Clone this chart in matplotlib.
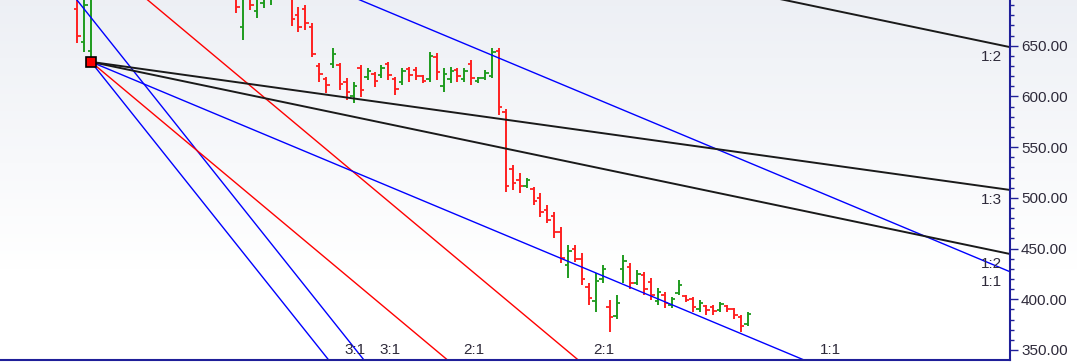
import numpy as np
import matplotlib.pyplot as plt
from matplotlib.ticker import MultipleLocator, FormatStrFormatter

# OHLC bars (bar index = position in the lists)
opens = [686, 654, 645, 712, 730, 742, 755, 748, 758, 772, 765, 752, 762, 756, 742, 750, 738, 728, 738, 720,
         725, 712, 722, 700, 668, 705, 684, 692, 696, 708, 705, 700, 680, 686, 668, 630, 617, 632, 631, 614,
         600, 628, 619, 622, 621, 632, 617, 614, 627, 626, 620, 617, 639, 610, 617, 626, 617, 632, 615, 618,
         620, 645, 585, 528, 518, 512, 509, 500, 488, 482, 466, 434, 450, 440, 412, 398, 420, 392, 383, 430,
         432, 416, 424, 417, 398, 404, 394, 406, 403, 400, 390, 393, 392, 389, 393, 390, 382, 376]
highs = [720, 712, 725, 735, 748, 760, 770, 762, 778, 785, 775, 768, 772, 765, 755, 760, 748, 742, 745, 732,
         735, 728, 730, 710, 712, 712, 708, 712, 715, 722, 718, 706, 688, 690, 672, 633, 619, 648, 633, 618,
         614, 631, 628, 624, 631, 634, 619, 628, 629, 629, 621, 644, 643, 628, 629, 628, 628, 636, 619, 626,
         648, 648, 588, 532, 524, 520, 511, 505, 493, 486, 471, 453, 453, 446, 416, 426, 434, 399, 404, 444,
         436, 429, 427, 421, 411, 407, 402, 419, 404, 402, 399, 394, 394, 397, 394, 391, 384, 387]
lows = [653, 644, 634, 705, 722, 735, 745, 738, 750, 760, 748, 742, 750, 738, 730, 735, 722, 718, 716, 708,
        705, 702, 700, 682, 656, 685, 677, 687, 690, 700, 697, 669, 663, 665, 639, 614, 603, 628, 606, 596,
        593, 599, 616, 609, 618, 616, 601, 611, 614, 616, 613, 614, 616, 604, 613, 614, 614, 611, 613, 616,
        618, 582, 506, 508, 505, 510, 493, 481, 475, 460, 436, 421, 437, 414, 394, 387, 416, 368, 381, 416,
        410, 414, 404, 399, 394, 391, 391, 404, 397, 387, 387, 384, 384, 387, 387, 381, 368, 374]
closes = [660, 690, 715, 730, 742, 755, 748, 758, 772, 765, 752, 762, 756, 742, 750, 738, 728, 738, 720, 725,
          712, 722, 708, 688, 698, 690, 700, 702, 708, 705, 700, 676, 668, 672, 642, 622, 611, 642, 612, 604,
          610, 606, 625, 615, 628, 621, 607, 625, 621, 620, 615, 640, 624, 622, 625, 620, 625, 618, 618, 623,
          644, 590, 512, 515, 512, 518, 497, 486, 478, 466, 441, 448, 440, 420, 401, 418, 430, 382, 396, 438,
          416, 425, 410, 404, 407, 396, 400, 414, 399, 392, 396, 389, 388, 395, 390, 384, 374, 385]

# Gann fans: origin (bar, price), 1x1 step in price per bar
fan_origins = [(-20.5, 870.0), (2, 634.0)]
gann_unit = 2.85
fan_labels = ['3:1', '2:1', '1:1', '1:2', '1:3']
fan_factors = [3, 2, 1, 1 / 2, 1 / 3]
fan_colors = ['#0000ff', '#ff0000', '#0000ff', '#1a1a1a', '#1a1a1a']
fan_widths = [1.0, 1.0, 1.0, 1.4, 1.4]

price_ticks = [350, 400, 450, 500, 550, 600, 650]
xmin, xmax = -11.16, 134.9
ymin, ymax = 340.1, 695.0

navy = '#1f1f99'
txt = '#2e2a3a'

fig = plt.figure(figsize=(10.77, 3.63), dpi=100)

# soft grey-to-white background
bg = fig.add_axes([0, 0, 1, 1], zorder=-1)
grad = np.clip(np.linspace(0, 1.35, 256), 0, 1)[:, None]
top = np.array([0.93, 0.94, 0.96])
img = top + (1 - top) * grad[..., None]
bg.imshow(img, aspect='auto', extent=[0, 1, 0, 1], origin='upper')
bg.axis('off')

ax = fig.add_axes([0, 3 / 363, 1010 / 1077, 360 / 363])
ax.set_facecolor('none')

# bars
x = np.arange(len(opens))
up = np.array(closes) >= np.array(opens)
cols = np.where(up, '#1e9b1e', '#ff2020')
ax.vlines(x, lows, highs, colors=cols, lw=1.4)
ax.hlines(opens, x - 0.5, x, colors=cols, lw=1.3)
ax.hlines(closes, x, x + 0.5, colors=cols, lw=1.3)

# gann fans
for ox, oy in fan_origins:
    for lab, f, c, w in zip(fan_labels, fan_factors, fan_colors, fan_widths):
        slope = -gann_unit * f
        xe = ox + (ymin - oy) / slope
        if xe <= xmax:
            ye = ymin
            off, ha = (26, 10), 'center'
        else:
            xe = xmax
            ye = oy + slope * (xmax - ox)
            off, ha = (-8, -10), 'right'
        ax.plot([ox, xe], [oy, ye], color=c, lw=w)
        if ye < ymax:
            ax.annotate(lab, (xe, ye), xytext=off, textcoords='offset pixels',
                        ha=ha, va='center', fontsize=11, color=txt,
                        family='Liberation Sans', annotation_clip=False)

ax.plot(fan_origins[1][0], fan_origins[1][1], 's', ms=6.5, mfc='red', mec='black', mew=1.2, zorder=5)

ax.set_xlim(xmin, xmax)
ax.set_ylim(ymin, ymax)
ax.set_xticks([])
ax.yaxis.tick_right()
ax.set_yticks(price_ticks)
ax.yaxis.set_minor_locator(MultipleLocator(10))
ax.yaxis.set_major_formatter(FormatStrFormatter('%.2f'))
ax.tick_params(axis='y', which='major', direction='out', length=6, width=1, color=navy,
               labelcolor=txt, labelsize=11, pad=2)
ax.tick_params(axis='y', which='minor', direction='out', length=3, width=1, color=navy)
for lbl in ax.get_yticklabels():
    lbl.set_family('Liberation Sans')
for s in ['left', 'top']:
    ax.spines[s].set_visible(False)
for s in ['right', 'bottom']:
    ax.spines[s].set_color(navy)
    ax.spines[s].set_linewidth(1.5)

# partly hidden top label
ax.annotate('700.00', (1, 700), xycoords=('axes fraction', 'data'), xytext=(10, 0),
            textcoords='offset pixels', va='center', fontsize=11, color=txt,
            family='Liberation Sans', annotation_clip=False)

fig.savefig('out.png', dpi=100)
